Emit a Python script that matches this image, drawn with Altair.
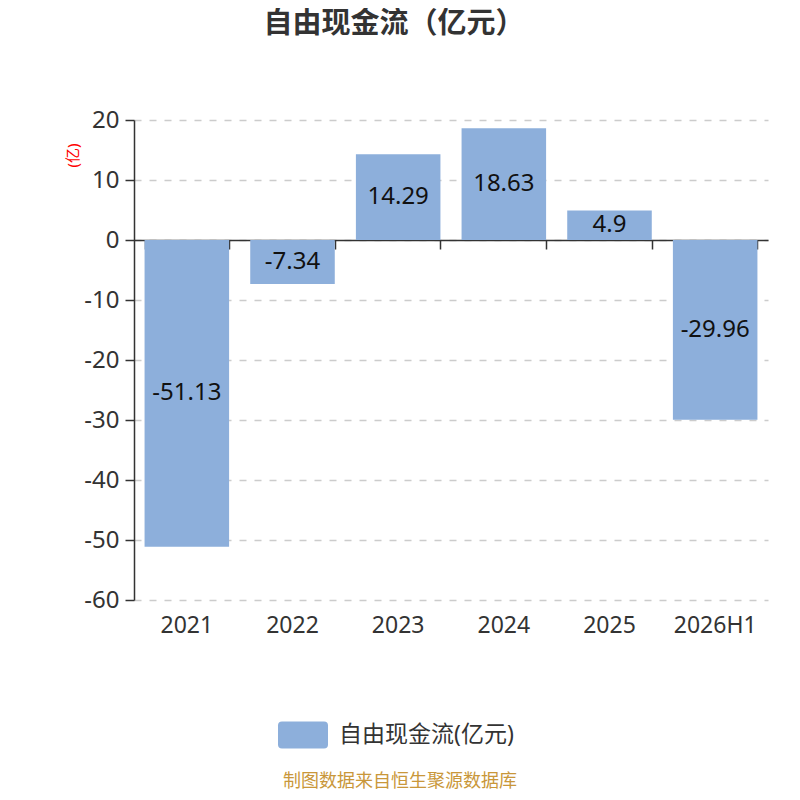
import altair as alt
import pandas as pd

categories = ["2021", "2022", "2023", "2024", "2025", "2026H1"]
values = [-51.13, -7.34, 14.29, 18.63, 4.9, -29.96]
labels = ["-51.13", "-7.34", "14.29", "18.63", "4.9", "-29.96"]
series_name = "自由现金流(亿元)"
y_ticks = [-60, -50, -40, -30, -20, -10, 0, 10, 20]
title_text = "自由现金流（亿元）"
footer_text = "制图数据来自恒生聚源数据库"

FONT = "Noto Sans, Noto Sans CJK SC, sans-serif"
BAR = "#8DAFDB"

df = pd.DataFrame({"cat": categories, "val": values, "label": labels, "series": series_name})
foot = pd.DataFrame({"t": [footer_text]})
head = pd.DataFrame({"t": [title_text]})

xscale = alt.Scale(paddingInner=0.2, paddingOuter=0.1)
yscale = alt.Scale(domain=[-60, 20], nice=False, zero=False)

base = alt.Chart(df)

bars = base.mark_bar(color=BAR).encode(
    x=alt.X("cat:N", sort=categories, scale=xscale, title=None,
            axis=alt.Axis(orient="bottom", domain=False, ticks=False, grid=False,
                          labelAngle=0, labelFontSize=23, labelColor="#333",
                          labelPadding=14, labelFont=FONT)),
    y=alt.Y("val:Q", scale=yscale,
            axis=alt.Axis(values=y_ticks, title="(亿)", titleColor="#FF0000",
                          titleFontSize=15, titleFontWeight="normal", titleFont=FONT,
                          titleAngle=270, titleX=-62, titleY=35,
                          titleAlign="center", titleBaseline="middle",
                          labelExpr="datum.value + ''",
                          labelFontSize=24, labelColor="#333", labelFont=FONT,
                          labelPadding=6, tickSize=9, tickColor="#333", tickWidth=1.5,
                          domainColor="#333", domainWidth=1.5,
                          grid=True, gridColor="#CCCCCC", gridDash=[7, 8], gridWidth=1.6)),
    color=alt.Color("series:N", scale=alt.Scale(range=[BAR]), title=None,
                    legend=alt.Legend(orient="none", legendX=144, legendY=590,
                                      symbolType="M-0.84,-0.54H0.84Q1,-0.54 1,-0.38V0.38Q1,0.54 0.84,0.54H-0.84Q-1,0.54 -1,0.38V-0.38Q-1,-0.54 -0.84,-0.54Z",
                                      symbolSize=2500, symbolStrokeWidth=0, symbolOpacity=1,
                                      labelFontSize=23, labelColor="#333", labelFont=FONT,
                                      labelOffset=11, labelLimit=0)),
)

text = base.mark_text(fontSize=24, color="#111", font=FONT, baseline="middle").transform_calculate(
    mid="datum.val / 2"
).encode(
    x=alt.X("cat:N", sort=categories, scale=xscale, axis=None),
    y=alt.Y("mid:Q", scale=yscale),
    text="label:N",
)

zero_axis = base.mark_bar(opacity=0).encode(
    x=alt.X("cat:N", sort=categories, scale=xscale, title=None,
            axis=alt.Axis(orient="bottom", offset=-360, domain=True, domainColor="#333",
                          domainWidth=1.5, ticks=True, tickBand="extent", tickSize=9,
                          tickColor="#333", tickWidth=1.5, labels=False, grid=False)),
    y=alt.Y("val:Q", scale=yscale),
)

footer = alt.Chart(foot).mark_text(fontSize=18, color="#C9973A", font=FONT, baseline="middle").encode(
    x=alt.value(266), y=alt.value(662), text="t:N"
)

heading = alt.Chart(head).mark_text(fontSize=29, fontWeight="bold", color="#333",
                                    font="Noto Sans CJK SC", baseline="middle").encode(
    x=alt.value(260), y=alt.value(-96), text="t:N"
)

chart = alt.layer(bars, text, zero_axis, footer, heading).resolve_axis(x="independent").properties(
    width=634, height=480,
    autosize=alt.AutoSizeParams(type="none"),
    padding={"left": 126, "top": 112, "right": 24, "bottom": 192},
).configure(background="white", view=alt.ViewConfig(stroke="transparent", strokeWidth=0))

chart.save("out.html", embed_options={"renderer": "svg", "actions": False})
